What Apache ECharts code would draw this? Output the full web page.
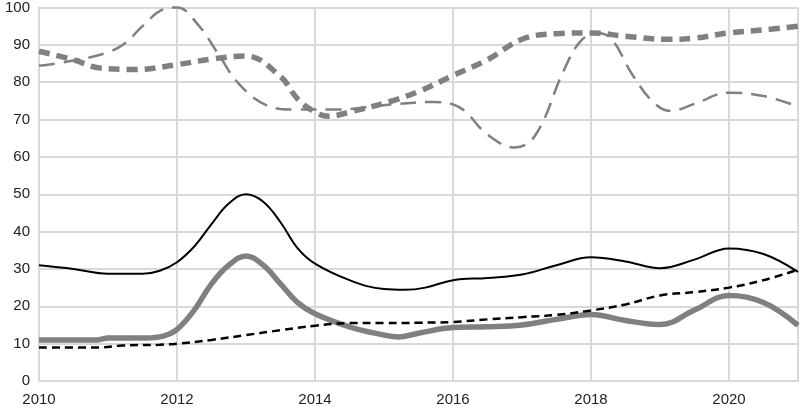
<!DOCTYPE html>
<html><head><meta charset="utf-8">
<script src="https://cdn.jsdelivr.net/npm/echarts@6/dist/echarts.min.js"></script>
<style>html,body{margin:0;padding:0;background:#fff}#c{width:801px;height:407px}</style>
</head><body><div id="c"></div>
<script>
const blackSolidX = [2010,2010.5,2011,2011.5,2011.75,2012,2012.25,2012.5,2012.75,2013,2013.25,2013.5,2013.75,2014,2014.5,2015,2015.3,2015.6,2016,2016.5,2017,2017.5,2018,2018.5,2019,2019.5,2020,2020.5,2021];
const blackSolid  = [31,30,28.7,28.7,29.5,31.8,36,42,47.5,50,48,42.5,35.5,31.4,27,24.6,24.4,25,27,27.6,28.5,31,33.1,32,30.2,32.5,35.5,34,29.2];

const graySolidX = [2010,2010.85,2011,2011.55,2011.8,2012,2012.25,2012.5,2012.75,2013,2013.25,2013.5,2013.75,2014,2014.5,2015,2015.2,2015.5,2016,2016.5,2017,2017.5,2018,2018.5,2019,2019.5,2020,2020.5,2021];
const graySolid  = [11,11,11.5,11.5,12,13.8,19,26,31,33.5,31,26,21,18,14.5,12.3,11.8,12.8,14.3,14.5,15,16.5,17.8,16.2,15.1,19,22.9,21,14.9];

const blackDashX = [2010,2010.88,2011.2,2011.75,2012,2012.5,2013,2013.5,2014,2014.5,2015,2015.5,2016,2016.5,2017,2017.5,2018,2018.5,2019,2019.5,2020,2020.5,2021];
const blackDash  = [9,9,9.5,9.7,10,11,12.3,13.6,14.8,15.5,15.5,15.6,15.8,16.5,17.1,17.7,18.9,20.5,22.9,23.8,25,27,29.8];

const grayDashX = [2010,2010.5,2010.88,2011.4,2012,2012.5,2013,2013.5,2013.75,2014,2014.2,2014.5,2015.1,2015.5,2016,2016.5,2017,2017.5,2018,2018.5,2019.1,2019.5,2020,2020.5,2021];
const grayDash  = [88.3,86,83.8,83.4,84.7,86.2,87,81.5,75.5,72,70.9,72,74.9,77.5,81.8,86,91.5,93,93.2,92.3,91.5,91.8,93.2,94,95];

const grayLongX = [2010,2010.5,2011,2011.25,2011.5,2011.8,2012,2012.3,2012.6,2012.9,2013.3,2013.7,2014.3,2015.1,2015.7,2016.1,2016.5,2016.9,2017.2,2017.6,2017.85,2018.1,2018.3,2018.6,2018.9,2019.15,2019.5,2020,2020.5,2021];
const grayLong  = [84.4,85.8,88,90.5,95,99.5,100,95.5,87.5,79.5,73.8,72.7,72.7,74,74.7,73.2,66,62.5,66,82.9,91,93.2,91.5,82,74.7,72.3,74.2,77.2,76.3,73.5];

const xTicks = [2010,2012,2014,2016,2018,2020];
const yMin = 0, yMax = 100, yStep = 10;

function pairs(xs, ys){ return xs.map((x,i)=>[x, ys[i]]); }

const chart = echarts.init(document.getElementById('c'), null, {renderer:'canvas'});
const gray = '#808080';
chart.setOption({
  animation:false,
  grid:{left:39,right:1,top:6,bottom:26,containLabel:false},
  xAxis:{type:'value',min:2010,max:2021,interval:2,
    axisLine:{show:true,lineStyle:{color:'#d9d9d9',width:2}},
    axisTick:{show:false},
    axisLabel:{color:'#222',fontSize:15,fontFamily:'Liberation Sans, Arial',margin:11,
      formatter:v=>xTicks.includes(v)?String(v):''},
    splitLine:{show:true,lineStyle:{color:'#d9d9d9',width:2}}},
  yAxis:{type:'value',min:yMin,max:yMax,interval:yStep,
    axisLine:{show:true,lineStyle:{color:'#d9d9d9',width:2}},
    axisTick:{show:false},
    axisLabel:{color:'#222',fontSize:15,fontFamily:'Liberation Sans, Arial',margin:9},
    splitLine:{show:true,lineStyle:{color:'#d9d9d9',width:2}}},
  series:[
    {type:'line',data:pairs(grayLongX,grayLong),smooth:0.4,symbol:'none',clip:false,
      lineStyle:{color:gray,width:2.5,type:[16,9]}},
    {type:'line',data:pairs(grayDashX,grayDash),smooth:0.4,symbol:'none',
      lineStyle:{color:gray,width:5.5,type:[11,7]}},
    {type:'line',data:pairs(graySolidX,graySolid),smooth:0.4,symbol:'none',
      lineStyle:{color:gray,width:5.5}},
    {type:'line',data:pairs(blackDashX,blackDash),smooth:0.4,symbol:'none',
      lineStyle:{color:'#000',width:2.5,type:[8,5]}},
    {type:'line',data:pairs(blackSolidX,blackSolid),smooth:0.4,symbol:'none',
      lineStyle:{color:'#000',width:2}}
  ]
});
</script></body></html>
